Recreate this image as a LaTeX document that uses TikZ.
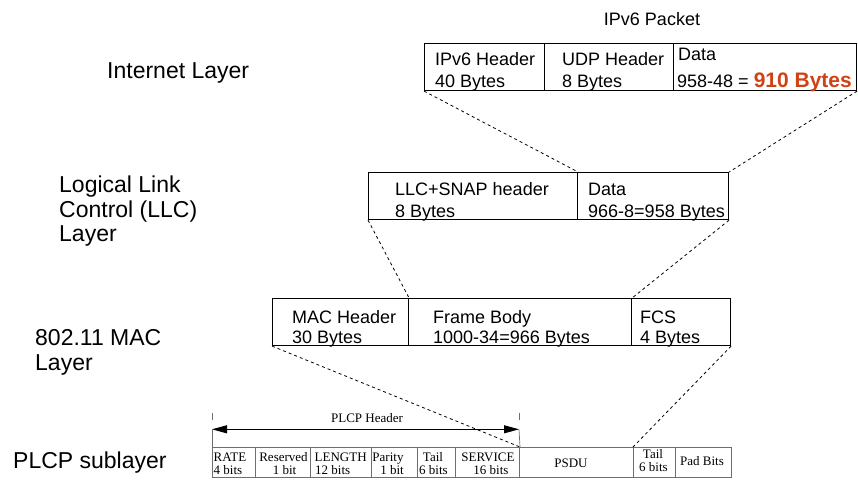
\documentclass[tikz,border=0pt]{standalone}
\usepackage{fontspec}
\setmainfont{Liberation Sans}
\newfontfamily\tabfont{Liberation Serif}
\usetikzlibrary{arrows.meta}
\definecolor{hot}{RGB}{207,66,20}
\definecolor{tabgray}{RGB}{110,110,110}
\begin{document}
\begin{tikzpicture}[x=1pt,y=-1pt,
  cellbox/.style={draw, line width=1.1pt, inner sep=0, anchor=north west, minimum height=47pt},
  tabcell/.style={draw=tabgray, line width=1pt, inner sep=0, anchor=north west, minimum height=30pt},
  btxt/.style={inner sep=0, anchor=base west, font=\fontsize{18}{22}\selectfont},
  layertxt/.style={inner sep=0, anchor=base west, font=\fontsize{23}{25}\selectfont},
  ttxt/.style={inner sep=0, anchor=base, font=\tabfont\fontsize{13}{14}\selectfont},
  ttxtl/.style={ttxt, anchor=base west},
  conn/.style={dash pattern=on 3pt off 3pt, line width=0.8pt},
  tick/.style={draw=tabgray, line width=0.7pt},
  hdrarrow/.style={line width=0.9pt, {Triangle[length=15pt,width=8pt]}-{Triangle[length=15pt,width=8pt]}}
]
\useasboundingbox (0,0) rectangle (858,484);

% ---- layer labels ----
\node[layertxt] (l1) at (107,79) {Internet Layer};
\node[layertxt] (l2a) at (59,192.5) {Logical Link};
\node[layertxt] (l2b) at (59,217) {Control (LLC)};
\node[layertxt] (l2c) at (59,241.5) {Layer};
\node[layertxt] (l3a) at (35,345) {802.11 MAC};
\node[layertxt] (l3b) at (35,370) {Layer};
\node[layertxt] (l4) at (13,468) {PLCP sublayer};

% ---- IPv6 packet ----
\node[inner sep=0, anchor=base, font=\fontsize{18}{22}\selectfont] (ipt) at (652,26) {IPv6 Packet};
\node[cellbox, minimum width=120pt] (ipA) at (424,43) {};
\node[cellbox, minimum width=129pt] (ipB) at (544,43) {};
\node[cellbox, minimum width=183pt] (ipC) at (673,43) {};
\node[btxt] (ipA1) at (435,66) {IPv6 Header};
\node[btxt] (ipA2) at (435,88) {40 Bytes};
\node[btxt] (ipB1) at (562,66) {UDP Header};
\node[btxt] (ipB2) at (562,88) {8 Bytes};
\node[btxt] (ipC1) at (678,61) {Data};
\node[btxt] (ipC2) at (677,88) {958-48 = {\color{hot}\bfseries\fontsize{21}{22}\selectfont 910 Bytes}};

% ---- LLC ----
\node[cellbox, minimum width=209pt] (llA) at (368,172) {};
\node[cellbox, minimum width=151pt] (llB) at (577,172) {};
\node[btxt] (llA1) at (395,195) {LLC+SNAP header};
\node[btxt] (llA2) at (395,217) {8 Bytes};
\node[btxt] (llB1) at (588,195) {Data};
\node[btxt] (llB2) at (588,217) {966-8=958 Bytes};

% ---- MAC ----
\node[cellbox, minimum width=136pt] (mA) at (272,298) {};
\node[cellbox, minimum width=223pt] (mB) at (408,298) {};
\node[cellbox, minimum width=99pt] (mC) at (631,298) {};
\node[btxt] (mA1) at (292,323) {MAC Header};
\node[btxt] (mA2) at (292,343) {30 Bytes};
\node[btxt] (mB1) at (433,323) {Frame Body};
\node[btxt] (mB2) at (433,343) {1000-34=966 Bytes};
\node[btxt] (mC1) at (640,323) {FCS};
\node[btxt] (mC2) at (640,343) {4 Bytes};

% ---- PLCP table ----
\node[tabcell, minimum width=43pt] (p1) at (212,447) {};
\node[tabcell, minimum width=55pt] (p2) at (255,447) {};
\node[tabcell, minimum width=61pt] (p3) at (310,447) {};
\node[tabcell, minimum width=46pt] (p4) at (371,447) {};
\node[tabcell, minimum width=38pt] (p5) at (417,447) {};
\node[tabcell, minimum width=64pt] (p6) at (455,447) {};
\node[tabcell, minimum width=114pt] (p7) at (519,447) {};
\node[tabcell, minimum width=42pt] (p8) at (633,447) {};
\node[tabcell, minimum width=56pt] (p9) at (675,447) {};

\node[ttxtl] (t1a) at (213.5,461) {RATE};
\node[ttxtl] (t1b) at (213.5,474) {4 bits};
\node[ttxt] (t2a) at (283.5,461) {Reserved};
\node[ttxt] (t2b) at (284.5,474) {1 bit};
\node[ttxtl] (t3a) at (314.5,461) {LENGTH};
\node[ttxtl] (t3b) at (315,474) {12 bits};
\node[ttxt] (t4a) at (388,461) {Parity};
\node[ttxt] (t4b) at (392,474) {1 bit};
\node[ttxt] (t5a) at (433,461) {Tail};
\node[ttxt] (t5b) at (433.5,474) {6 bits};
\node[ttxt] (t6a) at (488,461) {SERVICE};
\node[ttxt] (t6b) at (491,474) {16 bits};
\node[ttxt] (t7) at (571,467) {PSDU};
\node[ttxt] (t8a) at (653,458) {Tail};
\node[ttxt] (t8b) at (653.5,471) {6 bits};
\node[ttxt] (t9) at (702,465) {Pad Bits};

% PLCP header arrow and ticks
\node[inner sep=0, anchor=base, font=\tabfont\fontsize{13}{14}\selectfont] (ph) at (367,422) {PLCP Header};
\coordinate (hl) at (212,429.3);
\coordinate (hr) at (519,429.3);
\draw[hdrarrow] (hl) -- (hr);
\draw[tick] (212,413) -- (212,420);
\draw[tick] (hl) -- (p1.north west);
\draw[tick] (519,413) -- (519,420);
\draw[tick] (hr) -- (p6.north east);

% ---- dashed connectors ----
\draw[conn] (ipA.south west) -- (llA.north east);
\draw[conn] (ipC.south east) -- (llB.north east);
\draw[conn] (llA.south west) -- (mA.north east);
\draw[conn] (llB.south east) -- (mB.north east);
\draw[conn] (mA.south west) -- (p6.north east);
\draw[conn] (mC.south east) -- (p8.north west);
\end{tikzpicture}
\end{document}
